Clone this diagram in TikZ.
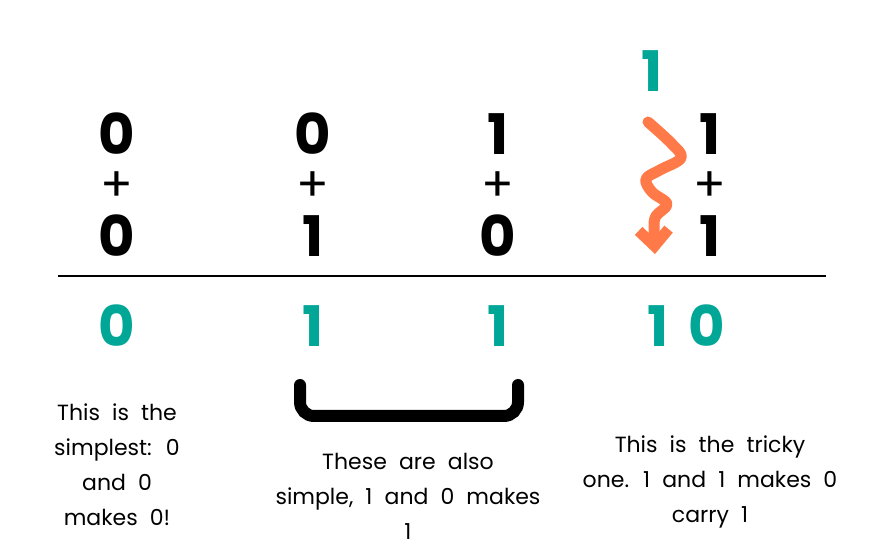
\documentclass[tikz,border=0pt]{standalone}
\usepackage{fontspec}
\setmainfont{Poppins}
\usetikzlibrary{arrows.meta}
\definecolor{SumTeal}{RGB}{0,166,150}
\definecolor{CarryOrange}{RGB}{255,122,72}
\newcommand\notefont{\fontsize{22}{35}\selectfont\spaceskip=0.55em\relax}

\begin{document}
\begin{tikzpicture}[x=1pt,y=1pt,
    digit/.style={font=\fontsize{56}{56}\selectfont\bfseries,inner sep=0pt,text height=40pt,text depth=0pt},
    sumdigit/.style={digit,text=SumTeal},
    plus/.style={font=\fontsize{48}{48}\selectfont,inner sep=0pt,text height=30pt,text depth=0pt},
    note/.style={font=\notefont,align=center,inner sep=0pt}]
      \useasboundingbox (0,0) rectangle (883,546);
      % the four columns
      \node[digit] (a1) at (117,411) {0};
      \node[plus]  (p1) at (117,359) {+};
      \node[digit] (b1) at (117,309) {0};
      \node[digit] (a2) at (313,411) {0};
      \node[plus]  (p2) at (313,359) {+};
      \node[digit] (b2) at (313,309) {1};
      \node[digit] (a3) at (498,411) {1};
      \node[plus]  (p3) at (498,359) {+};
      \node[digit] (b3) at (498,309) {0};
      \node[digit] (a4) at (710,411) {1};
      \node[plus]  (p4) at (710,359) {+};
      \node[digit] (b4) at (710,309) {1};
      \node[sumdigit] (carry) at (652,474) {1};
      \draw[line width=2.5] (58,270) -- (826,270);
      % results
      \node[sumdigit] (s1) at (117,219) {0};
      \node[sumdigit] (s2) at (313,219) {1};
      \node[sumdigit] (s3) at (498,219) {1};
      \node[sumdigit] (s4) at (686,219) {1\hspace{20pt}0};
      % carry squiggle
      \draw[CarryOrange,line width=11,line cap=round,line join=round,-{Straight Barb[length=16pt,width=30pt]}]
        plot[smooth,tension=0.6] coordinates {(648,424) (672,402) (681,388) (660,376) (646,367) (652,354) (667,342) (656,330) (654,318) (655,292)};
      % bracket under the middle columns
      \draw[line width=12,line cap=round,rounded corners=14] (300,161) -- (300,130) -- (518,130) -- (518,161);
      % notes
      \node[note] (n1) at (117,81) {This is the\\simplest: 0\\and 0\\makes 0!};
      \node[note] (n2) at (408,50) {These are also\\simple, 1 and 0 makes\\1};
      \node[note] (n3) at (710,64) {This is the tricky\\one. 1 and 1 makes 0\\carry 1};
    \end{tikzpicture}
\end{document}
